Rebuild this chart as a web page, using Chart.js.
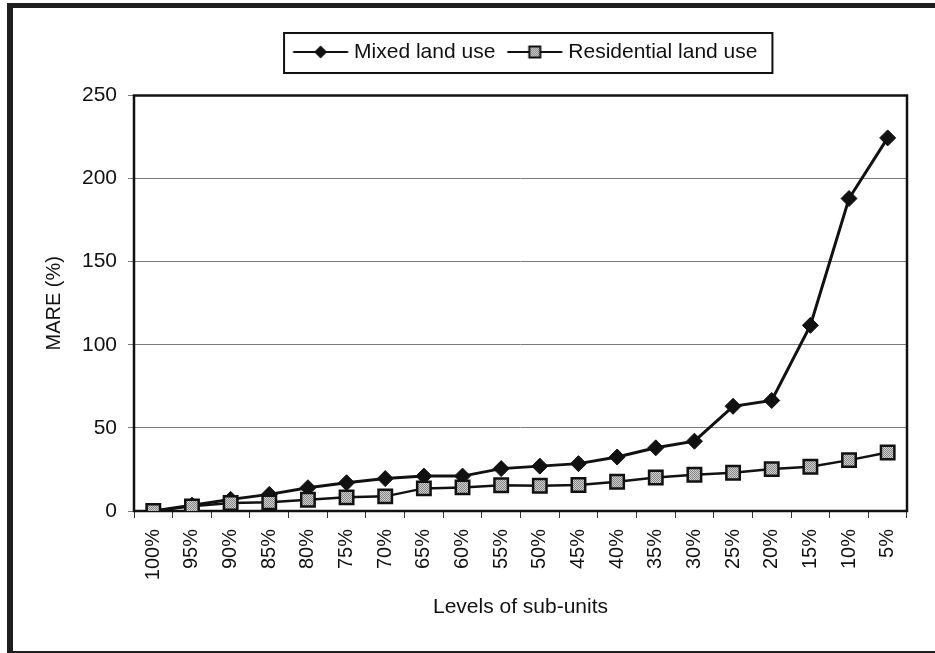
<!DOCTYPE html>
<html>
<head>
<meta charset="utf-8">
<script src="https://cdn.jsdelivr.net/npm/chart.js@4.4.1/dist/chart.umd.min.js"></script>
<style>
  body { margin: 0; background: #fff; }
  #wrap { position: relative; width: 935px; height: 653px; overflow: hidden; }
  #frame { position: absolute; left: 7px; top: 3px; width: 928px; height: 650px;
           box-sizing: border-box; border-left: 6px solid #1e1e1e; border-top: 5px solid #1e1e1e;
           border-bottom: 2px solid #1e1e1e; pointer-events: none; }
</style>
</head>
<body>
<div id="wrap">
  <canvas id="chart" width="935" height="653"></canvas>
  <div id="frame"></div>
</div>
<script>
// categories and series
const levels = ['100%', '95%', '90%', '85%', '80%', '75%', '70%', '65%', '60%', '55%',
                '50%', '45%', '40%', '35%', '30%', '25%', '20%', '15%', '10%', '5%'];
const mixedUse = [0, 3.5, 7, 10, 14, 17, 19.5, 21, 21, 25.5, 27, 28.5, 32.5, 38, 42, 63, 66.5, 111.7, 188, 224.5];
const residentialUse = [0, 2.8, 4.8, 5.2, 6.8, 8.2, 8.8, 13.6, 14.2, 15.5, 15.2, 15.6, 17.6, 20.2, 21.8, 23, 25.2, 26.6, 30.6, 35.2];
const yTicks = [0, 50, 100, 150, 200, 250];

const FONT = "'Liberation Sans', Arial, sans-serif";
const INK = '#111';

// stippled grey fill for the square markers
function makeStipple() {
    const c = document.createElement('canvas');
    c.width = 2; c.height = 2;
    const g = c.getContext('2d');
    g.fillStyle = '#d0d0d0'; g.fillRect(0, 0, 2, 2);
    g.fillStyle = '#858585'; g.fillRect(0, 0, 1, 1); g.fillRect(1, 1, 1, 1);
    return g.createPattern(c, 'repeat');
}
const stipple = makeStipple();

// legend sample: line with marker in the middle
function makeSample(kind) {
    const c = document.createElement('canvas');
    c.width = 100; c.height = 18;
    const g = c.getContext('2d');
    g.strokeStyle = INK; g.lineWidth = 2.2;
    g.beginPath(); g.moveTo(19.5, 9); g.lineTo(74.5, 9); g.stroke();
    const cx = 47;
    if (kind === 'diamond') {
        g.fillStyle = INK;
        g.beginPath();
        g.moveTo(cx, 2.5); g.lineTo(cx + 6.5, 9); g.lineTo(cx, 15.5); g.lineTo(cx - 6.5, 9);
        g.closePath(); g.fill();
    } else {
        g.fillStyle = stipple;
        g.fillRect(cx - 5.5, 3.5, 11, 11);
        g.lineWidth = 2;
        g.strokeRect(cx - 5.5, 3.5, 11, 11);
    }
    return c;
}
const samples = [makeSample('diamond'), makeSample('square')];

// box round the legend, frame round the plot area
const boxes = {
    id: 'boxes',
    afterLayout(chart) {
        chart.legend.left += 10;
        chart.legend.right += 10;
    },
    beforeDatasetsDraw(chart) {
        const {ctx, chartArea: a} = chart;
        ctx.save();
        ctx.strokeStyle = INK;
        ctx.lineWidth = 2.5;
        ctx.strokeRect(a.left, a.top, a.right - a.left, a.bottom - a.top);
        ctx.restore();
    },
    afterDraw(chart) {
        const hb = chart.legend.legendHitBoxes;
        if (!hb || hb.length < 2) return;
        const {ctx} = chart;
        const cy = hb[0].top + hb[0].height / 2;
        const left = hb[0].left - 19.5;
        const right = hb[1].left + hb[1].width + 15;
        ctx.save();
        ctx.strokeStyle = INK;
        ctx.lineWidth = 2;
        ctx.strokeRect(left, cy - 19, right - left, 40);
        ctx.restore();
    }
};

new Chart(document.getElementById('chart').getContext('2d'), {
    type: 'line',
    data: {
        labels: levels,
        datasets: [
            {
                label: 'Residential land use',
                data: residentialUse,
                borderColor: INK,
                borderWidth: 2.5,
                pointStyle: 'rect',
                pointRadius: 9.5,
                pointBackgroundColor: stipple,
                pointBorderColor: INK,
                pointBorderWidth: 2.5
            },
            {
                label: 'Mixed land use',
                data: mixedUse,
                borderColor: INK,
                borderWidth: 3,
                pointStyle: 'rectRot',
                pointRadius: 8,
                pointBackgroundColor: INK,
                pointBorderColor: INK,
                pointBorderWidth: 1
            }
        ]
    },
    options: {
        responsive: false,
        animation: false,
        devicePixelRatio: 1,
        layout: { padding: { left: 0, right: 28, top: 19, bottom: 0 } },
        plugins: {
            tooltip: { enabled: false },
            legend: {
                position: 'top',
                fullSize: false,
                weight: 1000,
                labels: {
                    usePointStyle: true,
                    pointStyleWidth: 40,
                    padding: 22.5,
                    color: INK,
                    font: { family: FONT, size: 21 },
                    generateLabels(chart) {
                        // Mixed first, as in the picture
                        return [1, 0].map((i, k) => ({
                            text: chart.data.datasets[i].label,
                            datasetIndex: i,
                            pointStyle: samples[k],
                            fillStyle: INK,
                            strokeStyle: INK,
                            lineWidth: 0,
                            fontColor: INK,
                            hidden: false
                        }));
                    }
                }
            },
            // empty spacer between legend and plot
            title: {
                display: true,
                text: '',
                fullSize: false,
                weight: 500,
                padding: 0,
                font: { size: 10, lineHeight: 2.3 }
            }
        },
        scales: {
            x: {
                offset: true,
                border: { display: false },
                grid: {
                    offset: true,
                    drawOnChartArea: false,
                    drawTicks: true,
                    tickLength: 7,
                    color: '#333',
                    lineWidth: 1
                },
                ticks: {
                    autoSkip: false,
                    minRotation: 90,
                    maxRotation: 90,
                    padding: 11,
                    color: INK,
                    font: { family: FONT, size: 20 }
                },
                title: {
                    display: true,
                    text: 'Levels of sub-units',
                    color: INK,
                    font: { family: FONT, size: 21 },
                    padding: { top: 0, bottom: 33 }
                },
                afterFit(scale) { scale.height = 142; }
            },
            y: {
                min: 0,
                max: 250,
                border: { display: false },
                grid: {
                    color: '#7a7a7a',
                    lineWidth: 1,
                    drawTicks: true,
                    tickLength: 6
                },
                afterBuildTicks(scale) {
                    scale.ticks = yTicks.map(v => ({ value: v }));
                },
                ticks: {
                    padding: 11,
                    color: INK,
                    font: { family: FONT, size: 21 }
                },
                title: {
                    display: true,
                    text: 'MARE (%)',
                    color: INK,
                    font: { family: FONT, size: 20 },
                    padding: { top: 42, bottom: 0 }
                },
                afterFit(scale) { scale.width = 134; }
            }
        }
    },
    plugins: [boxes]
});
</script>
</body>
</html>
